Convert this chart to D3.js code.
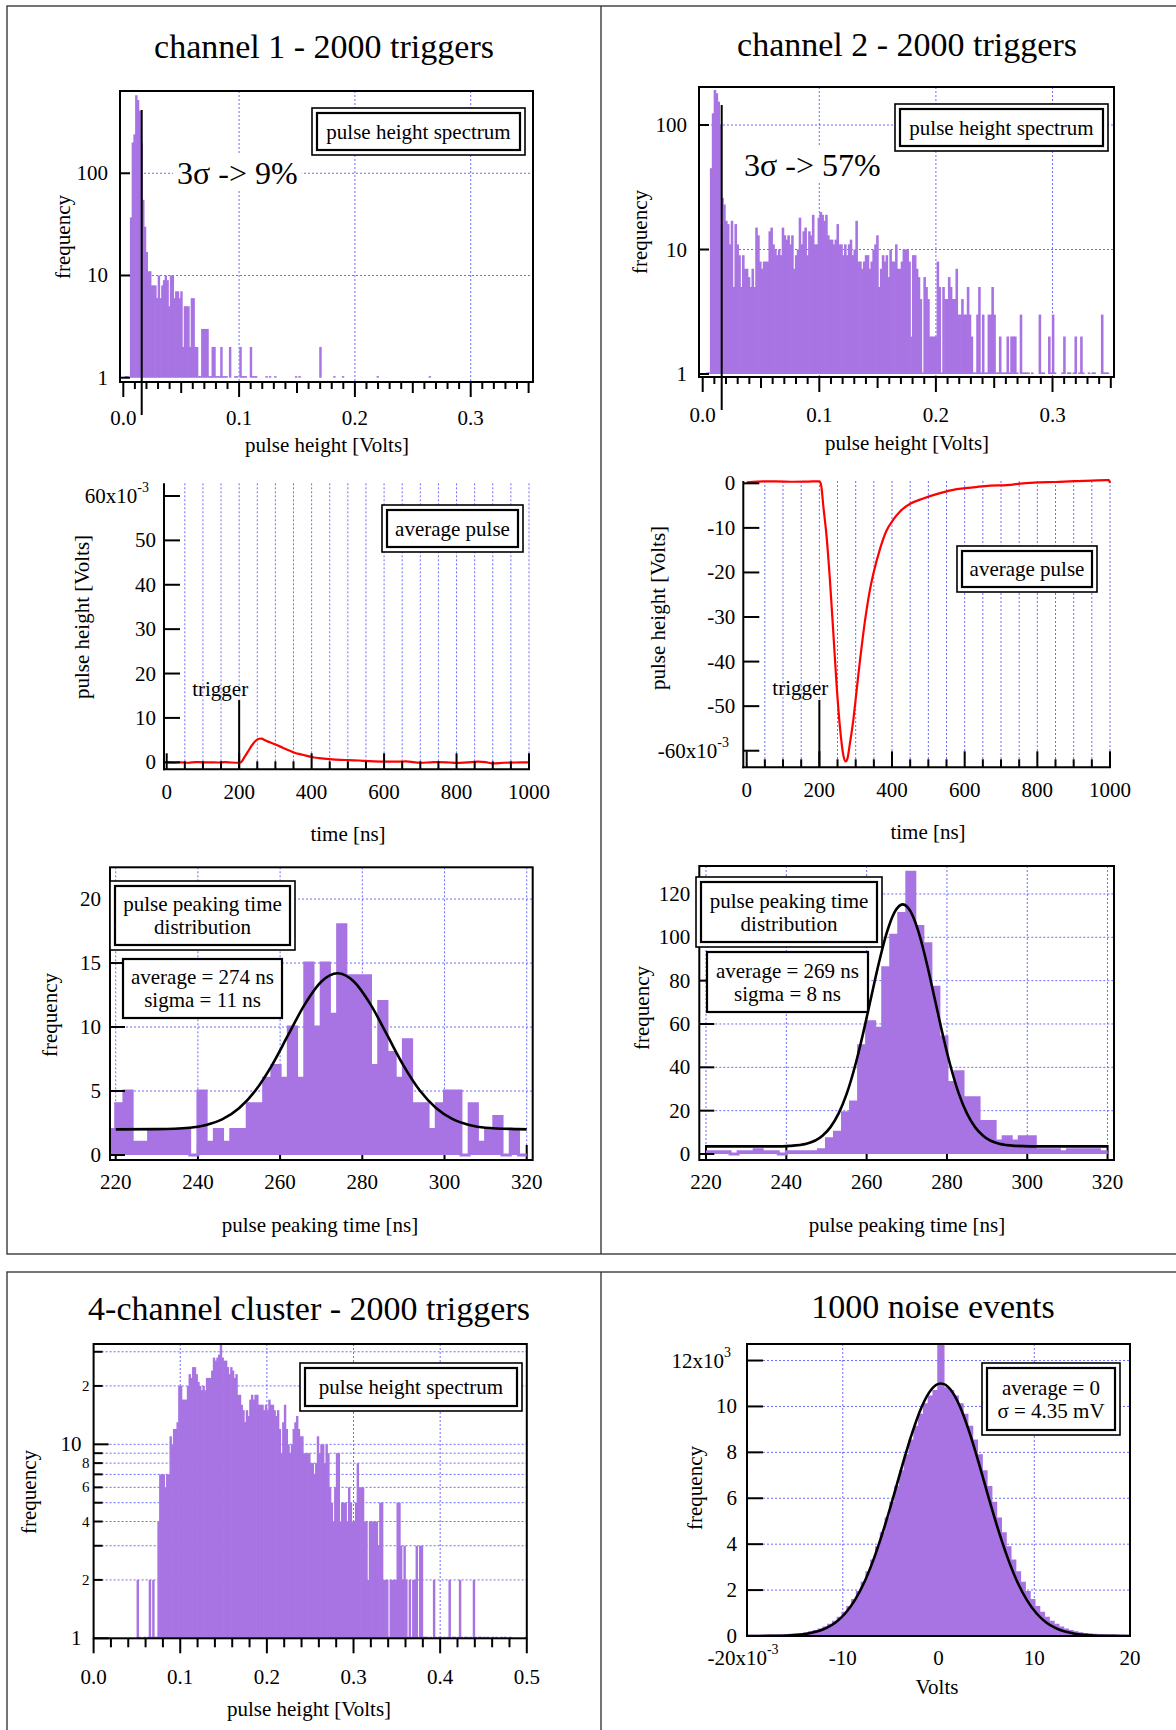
<!DOCTYPE html>
<html>
<head>
<meta charset="utf-8">
<script src="https://cdn.jsdelivr.net/npm/d3@7/dist/d3.min.js"></script>
<style>
html,body{margin:0;padding:0;background:#fff;}
svg{display:block;}
text{font-family:"Liberation Serif","Times New Roman",Times,serif;fill:#000;}
</style>
</head>
<body>
<svg id="chart" width="1176" height="1730"></svg>
<script>
// ================= DATA =================
const panelTitles = ["channel 1 - 2000 triggers", "channel 2 - 2000 triggers",
                     "4-channel cluster - 2000 triggers", "1000 noise events"];

// ---- pulse height spectra (counts per bin, first bin starts at 0 V) ----
const ch1PhBinWidth = 0.0015;
const ch1PhCounts = [
  0,1,1,0,37,200,240,580,520,410,
  200,55,30,17,11,11,8,8,8,6,
  10,6,8,9,10,9,5,10,10,6,
  7,7,6,7,2,5,5,5,2,6,
  6,2,2,1,1,3,3,3,3,1,
  1,2,2,1,1,1,2,1,1,1,
  0,2,0,0,1,1,0,2,1,1,
  1,0,0,2,1,1,1,0,0,0,
  0,0,1,0,1,0,0,1,0,0,
  0,0,0,0,0,0,0,0,0,1,
  0,1,0,0,0,0,0,0,0,0,
  0,0,0,2,0,0,0,0,0,0,
  0,1,0,0,0,0,1,0,0,0,
  0,0,0,0,0,0,0,0,0,0,
  0,0,0,0,0,0,1,0,0,0,
  0,0,0,0,0,0,0,0,0,0,
  0,0,0,0,0,0,0,0,0,0,
  0,0,0,0,0,0,1
];
const ch2PhBinWidth = 0.00162;
const ch2PhCounts = [
  0,0,1,1,45,124,191,180,154,100,
  26,23,17,16,11,17,5,16,11,9,
  5,9,7,7,6,5,7,5,15,13,
  8,7,8,8,8,14,15,11,10,9,
  10,9,15,13,12,13,11,13,7,9,
  10,18,11,14,15,9,14,13,19,11,
  11,18,20,19,17,19,13,12,12,11,
  12,16,11,11,9,11,9,11,12,9,
  10,17,8,8,7,8,9,9,7,8,
  10,11,13,5,7,9,8,9,6,10,
  8,8,11,7,7,8,10,10,10,8,
  2,9,9,7,6,4,1,6,5,4,
  2,2,2,2,8,5,1,5,4,4,
  6,5,4,4,7,3,3,4,3,3,
  5,3,2,1,1,3,5,1,3,1,
  1,3,3,5,3,1,1,2,1,1,
  1,2,1,2,2,2,1,0,3,1,
  1,1,1,0,1,0,0,0,3,1,
  1,0,0,2,1,3,1,0,0,0,
  1,2,0,1,1,0,1,2,0,1,
  2,1,0,0,1,0,1,1,0,0,
  0,3,1,1,1
];
const ch1ThreeSigma = 0.0159, ch1ThreeSigmaTop = 416;
const ch2ThreeSigma = 0.0163, ch2ThreeSigmaTop = 145;
const ch1ThreeSigmaText = "3σ -> 9%";
const ch2ThreeSigmaText = "3σ -> 57%";
const phXTicks = [0, 0.1, 0.2, 0.3];
const phXTickLabels = ["0.0", "0.1", "0.2", "0.3"];
const phYTicks = [1, 10, 100];
const phYTickLabels = ["1", "10", "100"];

// ---- average pulses (time in ns, amplitude in mV) ----
const ch1PulseTime = [0,20,40,60,80,100,120,140,160,180,200,205,215,225,235,245,255,262,270,285,
  300,320,340,355,370,385,400,420,450,480,500,530,560,600,640,660,700,730,750,780,
  800,830,860,880,900,930,960,1000];
const ch1PulseMv = [0,-0.1,0,-0.1,0.05,0,0,-0.05,0.05,-0.05,-0.1,0,1.2,2.5,3.8,4.8,5.3,5.35,5.0,4.5,
  4.0,3.3,2.6,2.1,1.8,1.5,1.2,0.95,0.7,0.55,0.5,0.4,0.25,0.15,0.15,0.2,-0.1,0,0.05,-0.05,
  -0.15,0,0.15,0.05,-0.25,-0.1,-0.05,0];
const ch2PulseTime = [0,30,80,130,170,200,205,211,220,229,238.5,247.7,257,266,272.5,278,284.4,293.6,302.8,312,
  321,330,339,348.6,367,385,404,422,450,486,532,578,624,670,716,761,807,850,900,950,991,997,1000];
const ch2PulseMv = [0.2,0.4,0.45,0.35,0.4,0.45,-0.5,-5.2,-12,-21.6,-33.6,-45.5,-55,-61,-62.4,-61.5,-58.2,-53,-46.3,-39.6,
  -33.6,-28.4,-24,-20.3,-14.7,-10.6,-8.1,-6.3,-4.6,-3.4,-2.2,-1.3,-0.9,-0.5,-0.4,0,0.2,0.3,0.5,0.6,0.7,0.7,0.1];
const triggerTime = 200;
const ch1TriggerTopMv = 14.0, ch2TriggerTopMv = -48.6;
const pulseXTicks = [0, 200, 400, 600, 800, 1000];
const ch1PulseYTicks = [0, 10, 20, 30, 40, 50, 60];
const ch1PulseYTickLabels = ["0", "10", "20", "30", "40", "50", "60x10"];
const ch2PulseYTicks = [0, -10, -20, -30, -40, -50, -60];
const ch2PulseYTickLabels = ["0", "-10", "-20", "-30", "-40", "-50", "-60x10"];

// ---- pulse peaking time distributions (2 ns bins) ----
const ch1PeakStart = 218, peakBinWidth = 2;
const ch1PeakCounts = [2, 4,5,1,1,2,2,2,2,2,0, 5,1,2,1,2,2,4,4,6,7, 6,10,6,15,10,15,11,18,14,14,
  14,7,12,8,6,9,4,4,2,4, 5,5,0,4,1,2,3,0,2,0];
const ch1FitTime = [220,230,238,242,246,250,254,258,262,266,270,274,278,282,286,290,294,298,302,306,310,318,320];
const ch1FitCount = [2.0,2.02,2.13,2.35,2.8,3.65,5.04,7.01,9.4,11.77,13.54,14.2,13.54,11.77,9.4,7.01,5.04,3.65,2.8,2.35,2.13,2.02,2.0];
const ch2PeakStart = 220;
const ch2PeakCounts = [1,1,1,0,1,1,2,1,1,0,1,1,1,1,2, 7,10,19,24,50,61,58,86,101,111,
  130,105,97,77,54,33,38,26,26,15, 15,6,8,6,8,8,2,2,2,1, 2,2,2,2,1];
const ch2FitTime = [220,237,241,245,249,251,253,255,257,259,261,263,265,267,269,271,273,275,277,279,281,283,285,287,289,293,297,301,320];
const ch2FitCount = [3.5,3.5,3.75,4.7,8.4,12.4,18.6,27.6,39.8,54.7,71.3,87.8,102,111.7,115.2,111.7,102,87.8,71.3,54.7,39.8,27.6,18.6,12.4,8.4,4.7,3.75,3.5,3.5];
const peakXTicks = [220, 240, 260, 280, 300, 320];
const ch1PeakYTicks = [0, 5, 10, 15, 20];
const ch2PeakYTicks = [0, 20, 40, 60, 80, 100, 120];
const ch1PeakStats = ["average = 274 ns", "sigma = 11 ns"];
const ch2PeakStats = ["average = 269 ns", "sigma = 8 ns"];

// ---- 4-channel cluster pulse height spectrum (0.002 V bins from 0) ----
const clusterBinWidth = 0.002;
const clusterCounts = [
  0,0,0,0,0,0,0,0,0,0,
  0,0,0,0,0,0,0,0,0,0,
  0,0,0,0,0,2,1,0,0,1,
  0,1,2,1,2,1,1,4,7,7,
  7,6,7,7,11,10,12,12,13,20,
  20,17,17,17,20,23,22,25,25,23,
  21,20,19,20,19,22,22,22,24,28,
  27,28,29,33,28,27,27,25,23,25,
  24,22,23,18,18,16,15,13,15,14,
  17,18,17,18,18,16,16,16,15,16,
  15,17,16,16,15,14,15,12,9,13,
  16,12,10,9,10,12,13,14,12,11,
  11,9,9,9,9,8,8,7,8,11,
  9,10,10,8,10,9,6,5,4,6,
  9,9,4,5,5,5,4,6,5,4,
  4,5,8,6,6,6,4,4,2,4,
  4,4,4,4,3,5,5,2,2,2,
  1,2,2,2,2,5,5,3,2,3,
  2,1,2,1,2,2,3,1,3,3,
  1,1,1,0,1,0,2,1,0,1,
  1,0,1,0,1,2,0,1,1,0,
  1,2,1,0,1,1,0,1,0,2,
  1,0,1,1,0,1,0,1,0,0,
  1,0,1,0,0,1,0,1,0,0,
  1,0,0,0,0,0,0,0,0,1
];
const clusterXTicks = [0, 0.1, 0.2, 0.3, 0.4, 0.5];
const clusterXTickLabels = ["0.0", "0.1", "0.2", "0.3", "0.4", "0.5"];
const clusterYTicks = [1, 2, 3, 4, 5, 6, 7, 8, 9, 10, 20, 30];
const clusterYTickLabels = ["1", "2", "", "4", "", "6", "", "8", "", "10", "2", ""];

// ---- noise events (0.5 mV bins from -20 mV, counts in thousands) ----
const noiseStart = -20, noiseBinWidth = 0.5;
const noiseCountsK = [
  0.002,0.003,0.004,0.006,0.008,0.011,0.016,0.022,0.03,0.041,
  0.056,0.078,0.109,0.149,0.203,0.272,0.361,0.474,0.615,0.789,
  1.00,1.255,1.556,1.91,2.31,2.77,3.28,3.85,4.46,5.11,
  5.79,6.48,7.17,7.86,8.50,9.10,9.63,10.08,10.42,10.66,
  13.4,10.78,10.66,10.42,10.08,9.63,9.10,8.50,7.86,7.17,
  6.48,5.79,5.11,4.46,3.85,3.28,2.77,2.31,1.91,1.556,
  1.255,1.00,0.789,0.615,0.474,0.361,0.272,0.203,0.149,0.109,
  0.078,0.056,0.041,0.03,0.022,0.016,0.011,0.008,0.006,0.004
];
const noiseFitMv = [-20,-17.75,-15.75,-13.75,-11.75,-10.75,-9.75,-8.75,-7.75,-6.75,-5.75,-4.75,-3.75,-2.75,-1.75,-0.75,0.25,
  1.25,2.25,3.25,4.25,5.25,6.25,7.25,8.25,9.25,10.25,11.25,12.25,14.25,16.25,18.25,20];
const noiseFitK = [0,0.004,0.023,0.097,0.34,0.59,0.98,1.55,2.34,3.37,4.61,6.01,7.48,8.85,9.99,10.74,11.0,
  10.74,9.99,8.85,7.48,6.01,4.61,3.37,2.34,1.55,0.98,0.59,0.34,0.097,0.023,0.004,0];
const noiseXTicks = [-20, -10, 0, 10, 20];
const noiseXTickLabels = ["-20x10", "-10", "0", "10", "20"];
const noiseYTicks = [0, 2, 4, 6, 8, 10, 12];
const noiseYTickLabels = ["0", "2", "4", "6", "8", "10", "12x10"];
const noiseStats = ["average = 0", "σ = 4.35 mV"];

// ================= DRAWING =================
const svg = d3.select("#chart");
const defs = svg.append("defs");
const PURPLE = "#a874e3", GRID = "#6b6bff", RED = "#ff0000";
let clipN = 0;
function clipRect(x0, y0, x1, y1) {
  const id = "cp" + (clipN++);
  defs.append("clipPath").attr("id", id).append("rect")
    .attr("x", x0).attr("y", y0).attr("width", x1 - x0).attr("height", y1 - y0);
  return "url(#" + id + ")";
}
function ln(g, x1, y1, x2, y2, w, color, dash) {
  const l = g.append("line").attr("x1", x1).attr("y1", y1).attr("x2", x2).attr("y2", y2)
    .attr("stroke", color || "#000").attr("stroke-width", w == null ? 2 : w);
  if (dash) l.attr("stroke-dasharray", dash);
  return l;
}
function grid(g, x1, y1, x2, y2) { return ln(g, x1, y1, x2, y2, 1, GRID, "2,2"); }
function txt(g, x, y, s, o) {
  o = o || {};
  const t = g.append("text").attr("x", x).attr("y", y)
    .attr("font-size", o.size || 21).attr("text-anchor", o.anchor || "middle")
    .attr("dominant-baseline", "central");
  if (o.rot) t.attr("transform", "rotate(-90," + x + "," + y + ")");
  t.append("tspan").text(s);
  if (o.sup) t.append("tspan").attr("dy", -9).attr("font-size", 14).text(o.sup);
  return t;
}
function frame(g, F) {
  g.append("rect").attr("x", F.x0).attr("y", F.y0).attr("width", F.x1 - F.x0).attr("height", F.y1 - F.y0)
    .attr("fill", "none").attr("stroke", "#000").attr("stroke-width", 2);
}
function legend(g, x0, y0, x1, y1, lines, dbl) {
  g.append("rect").attr("x", x0).attr("y", y0).attr("width", x1 - x0).attr("height", y1 - y0)
    .attr("fill", "#fff").attr("stroke", "#000").attr("stroke-width", dbl ? 1.6 : 2.2);
  if (dbl) g.append("rect").attr("x", x0 + 5).attr("y", y0 + 5).attr("width", x1 - x0 - 10).attr("height", y1 - y0 - 10)
    .attr("fill", "none").attr("stroke", "#000").attr("stroke-width", 2.2);
  const cx = (x0 + x1) / 2, cy = (y0 + y1) / 2, gap = 23;
  lines.forEach((s, i) => txt(g, cx, cy + (i - (lines.length - 1) / 2) * gap, s));
}
function logBars(g, counts, binW, xs, ys) {
  const base = ys(1);
  counts.forEach((c, i) => {
    if (c < 1) return;
    const xa = xs(i * binW), xb = xs((i + 1) * binW);
    const top = c > 1 ? ys(c) : base - 1.6;
    g.append("rect").attr("x", xa - 0.35).attr("y", top).attr("width", Math.max(xb - xa, 0.8) + 0.7)
      .attr("height", base - top).attr("fill", PURPLE);
  });
}
function stepHist(g, start, binW, counts, xs, ys, sw) {
  const pts = counts.map((c, i) => [start + i * binW, c]);
  pts.push([start + counts.length * binW, counts[counts.length - 1]]);
  const area = d3.area().x(d => xs(d[0])).y0(ys(0)).y1(d => ys(d[1])).curve(d3.curveStepAfter);
  g.append("path").attr("d", area(pts)).attr("fill", PURPLE);
  const line = d3.line().x(d => xs(d[0])).y(d => ys(d[1])).curve(d3.curveStepAfter);
  g.append("path").attr("d", line(pts)).attr("fill", "none").attr("stroke", PURPLE).attr("stroke-width", sw);
}
function curve(g, xsArr, ysArr, xs, ys, color, w) {
  const pts = xsArr.map((x, i) => [x, ysArr[i]]);
  const line = d3.line().x(d => xs(d[0])).y(d => ys(d[1])).curve(d3.curveMonotoneX);
  g.append("path").attr("d", line(pts)).attr("fill", "none").attr("stroke", color).attr("stroke-width", w)
    .attr("stroke-linejoin", "round");
}

// ---- page frames and titles ----
{
  const pf = svg.append("g").attr("fill", "none").attr("stroke", "#3a3a3a").attr("stroke-width", 1.4);
  pf.append("rect").attr("x", 7).attr("y", 6).attr("width", 1200).attr("height", 1248);
  pf.append("line").attr("x1", 601).attr("y1", 6).attr("x2", 601).attr("y2", 1254);
  pf.append("rect").attr("x", 7).attr("y", 1272).attr("width", 1200).attr("height", 500);
  pf.append("line").attr("x1", 601).attr("y1", 1272).attr("x2", 601).attr("y2", 1730);
  const tg = svg.append("g");
  txt(tg, 324, 46, panelTitles[0], {size: 34});
  txt(tg, 907, 44, panelTitles[1], {size: 34});
  txt(tg, 309, 1308, panelTitles[2], {size: 34});
  txt(tg, 933, 1306, panelTitles[3], {size: 34});
}

// ---- pulse height panels (ch1, ch2) ----
function phPanel(o) {
  const F = o.F;
  const xs = d3.scaleLinear().domain(o.xd).range([F.x0, F.x1]);
  const ys = d3.scaleLog().domain(o.yd).range([F.y1, F.y0]);
  const g = svg.append("g");
  phXTicks.forEach(v => { if (v > 0) grid(g, xs(v), F.y0, xs(v), F.y1); });
  phYTicks.forEach(v => { if (v > 1) grid(g, F.x0, ys(v), F.x1, ys(v)); });
  const t = txt(g, o.stx, o.sty, o.sText, {size: 32, anchor: "start"});
  const bb = t.node().getBBox();
  g.insert("rect", () => t.node()).attr("x", bb.x - 4).attr("y", bb.y).attr("width", bb.width + 8)
    .attr("height", bb.height).attr("fill", "#fff");
  const gb = g.append("g").attr("clip-path", clipRect(F.x0, F.y0, F.x1, F.y1));
  logBars(gb, o.counts, o.binW, xs, ys);
  ln(g, xs(o.sx), ys(o.sTop), xs(o.sx), F.y1 + 33, 2);
  frame(g, F);
  phYTicks.forEach((v, i) => {
    ln(g, F.x0, ys(v), F.x0 + 10, ys(v), 2);
    txt(g, F.x0 - 12, ys(v), phYTickLabels[i], {anchor: "end"});
  });
  d3.range(0, 36).forEach(i => {
    const L = i % 10 === 0 ? 15 : (i % 5 === 0 ? 11 : 7);
    ln(g, xs(i / 100), F.y1, xs(i / 100), F.y1 + L, 2);
  });
  phXTicks.forEach((v, i) => txt(g, xs(v), o.xly, phXTickLabels[i]));
  txt(g, o.ytx, o.yty, "frequency", {rot: true});
  txt(g, o.xtx, o.xty, "pulse height [Volts]");
  legend(g, o.lg[0], o.lg[1], o.lg[2], o.lg[3], ["pulse height spectrum"], true);
}
phPanel({F: {x0: 120, x1: 533, y0: 91, y1: 382}, xd: [-0.00285, 0.3538], yd: [0.908, 638],
  counts: ch1PhCounts, binW: ch1PhBinWidth, sx: ch1ThreeSigma, sTop: ch1ThreeSigmaTop,
  sText: ch1ThreeSigmaText, stx: 177, sty: 173, xly: 418, ytx: 63, yty: 237, xtx: 327, xty: 445,
  lg: [312, 108, 525, 155]});
phPanel({F: {x0: 699, x1: 1114, y0: 87, y1: 377}, xd: [-0.00317, 0.35274], yd: [0.946, 202],
  counts: ch2PhCounts, binW: ch2PhBinWidth, sx: ch2ThreeSigma, sTop: ch2ThreeSigmaTop,
  sText: ch2ThreeSigmaText, stx: 744, sty: 165, xly: 415, ytx: 640, yty: 232, xtx: 907, xty: 443,
  lg: [895, 104, 1108, 151]});

// ---- average pulse panels ----
function pulsePanel(o) {
  const A = o.A;
  const xs = d3.scaleLinear().domain(o.xd).range([A.x0, A.x1]);
  const ys = d3.scaleLinear().domain(o.yd).range([A.y1, A.y0]);
  const g = svg.append("g");
  d3.range(1, 21).forEach(i => grid(g, xs(i * 50), A.y0, xs(i * 50), A.y1));
  ln(g, xs(triggerTime), ys(o.trigTop), xs(triggerTime), A.y1, 2);
  txt(g, xs(triggerTime) - 19, o.trigLabelY, "trigger");
  curve(g, o.t, o.v, xs, ys, RED, 2.2);
  ln(g, A.x0, A.y0, A.x0, A.y1 + 1, 2);
  ln(g, A.x0 - 1, A.y1, A.x1 + 1, A.y1, 2);
  o.yTicks.forEach((v, i) => {
    ln(g, A.x0, ys(v), A.x0 + 16, ys(v), 2);
    const last = i === o.yTicks.length - 1;
    txt(g, last ? o.expLabelX : A.x0 - 8, ys(v), o.yLabels[i], {anchor: "end", sup: last ? o.sup : null});
  });
  d3.range(0, 21).forEach(i => {
    const L = i % 4 === 0 ? 16 : 8;
    ln(g, xs(i * 50), A.y1, xs(i * 50), A.y1 - L, 2);
  });
  pulseXTicks.forEach(v => txt(g, xs(v), o.xly, String(v)));
  txt(g, o.ytx, o.yty, "pulse height [Volts]", {rot: true});
  txt(g, o.xtx, o.xty, "time [ns]");
  legend(g, o.lg[0], o.lg[1], o.lg[2], o.lg[3], ["average pulse"], true);
}
pulsePanel({A: {x0: 164, x1: 529, y0: 483.3, y1: 769.3}, xd: [-7.45, 1000], yd: [-1.577, 62.86],
  t: ch1PulseTime, v: ch1PulseMv, trigTop: ch1TriggerTopMv, trigLabelY: 689,
  yTicks: ch1PulseYTicks, yLabels: ch1PulseYTickLabels, sup: "-3", expLabelX: 149,
  xly: 792, ytx: 82, yty: 617, xtx: 348, xty: 834, lg: [382, 505, 523, 552]});
pulsePanel({A: {x0: 743.3, x1: 1110, y0: 481, y1: 767.3}, xd: [-9.36, 1000], yd: [-63.72, 0.52],
  t: ch2PulseTime, v: ch2PulseMv, trigTop: ch2TriggerTopMv, trigLabelY: 688,
  yTicks: ch2PulseYTicks, yLabels: ch2PulseYTickLabels, sup: "-3", expLabelX: 729,
  xly: 790, ytx: 658, yty: 608, xtx: 928, xty: 832, lg: [957, 546, 1097, 592]});

// ---- peaking time panels ----
function peakPanel(o) {
  const F = o.F;
  const xs = d3.scaleLinear().domain(o.xd).range([F.x0, F.x1]);
  const ys = d3.scaleLinear().domain(o.yd).range([F.y1, F.y0]);
  const g = svg.append("g");
  peakXTicks.forEach(v => grid(g, xs(v), F.y0, xs(v), F.y1));
  o.yTicks.forEach(v => { if (v > 0) grid(g, F.x0, ys(v), F.x1, ys(v)); });
  peakXTicks.forEach(v => ln(g, xs(v), F.y1, xs(v), F.y1 - 15, 2));
  const gb = g.append("g").attr("clip-path", clipRect(F.x0, F.y0, F.x1, F.y1));
  stepHist(gb, o.start, peakBinWidth, o.counts, xs, ys, 3);
  curve(gb, o.fitT, o.fitC, xs, ys, "#000", 2.6);
  frame(g, F);
  o.yTicks.forEach(v => {
    ln(g, F.x0, ys(v), F.x0 + 15, ys(v), 2);
    txt(g, F.x0 - 9, ys(v), String(v), {anchor: "end"});
  });
  peakXTicks.forEach(v => txt(g, xs(v), 1182, String(v)));
  txt(g, o.ytx, o.yty, "frequency", {rot: true});
  txt(g, o.xtx, 1225, "pulse peaking time [ns]");
  legend(g, o.lg1[0], o.lg1[1], o.lg1[2], o.lg1[3], ["pulse peaking time", "distribution"], true);
  legend(g, o.lg2[0], o.lg2[1], o.lg2[2], o.lg2[3], o.stats, false);
}
peakPanel({F: {x0: 110, x1: 532.7, y0: 867.3, y1: 1160}, xd: [218.61, 321.46], yd: [-0.39, 22.48],
  start: ch1PeakStart, counts: ch1PeakCounts, fitT: ch1FitTime, fitC: ch1FitCount, yTicks: ch1PeakYTicks,
  ytx: 50, yty: 1015, xtx: 320, lg1: [110, 881, 295, 950], lg2: [123, 959, 282, 1018], stats: ch1PeakStats});
peakPanel({F: {x0: 699.3, x1: 1114, y0: 866, y1: 1160}, xd: [218.33, 321.6], yd: [-2.77, 132.9],
  start: ch2PeakStart, counts: ch2PeakCounts, fitT: ch2FitTime, fitC: ch2FitCount, yTicks: ch2PeakYTicks,
  ytx: 642, yty: 1008, xtx: 907, lg1: [696, 877, 882, 947], lg2: [707, 952, 868, 1012], stats: ch2PeakStats});

// ---- 4-channel cluster ----
{
  const F = {x0: 93.6, x1: 526.8, y0: 1344, y1: 1638.3};
  const xs = d3.scaleLinear().domain([0, 0.5]).range([F.x0, F.x1]);
  const ys = d3.scaleLog().domain([1, 32.9]).range([F.y1, F.y0]);
  const g = svg.append("g");
  clusterXTicks.forEach(v => { if (v > 0 && v < 0.5) grid(g, xs(v), F.y0, xs(v), F.y1); });
  clusterYTicks.forEach(v => { if (v > 1) grid(g, F.x0, ys(v), F.x1, ys(v)); });
  const gb = g.append("g").attr("clip-path", clipRect(F.x0, F.y0 , F.x1, F.y1 + 2));
  logBars(gb, clusterCounts, clusterBinWidth, xs, ys);
  frame(g, F);
  clusterYTicks.forEach((v, i) => {
    const major = v === 1 || v === 10;
    ln(g, F.x0, ys(v), F.x0 + (major ? 15 : 9), ys(v), 2);
    const lab = clusterYTickLabels[i];
    if (lab) txt(g, major ? F.x0 - 12 : F.x0 - 4, ys(v), lab, {anchor: "end", size: major ? 21 : 15});
  });
  d3.range(0, 26).forEach(i => {
    const L = i % 5 === 0 ? 15 : 9;
    ln(g, xs(i * 0.02), F.y1, xs(i * 0.02), F.y1 + L, 2);
  });
  clusterXTicks.forEach((v, i) => txt(g, xs(v), 1677, clusterXTickLabels[i]));
  txt(g, 29, 1492, "frequency", {rot: true});
  txt(g, 309, 1709, "pulse height [Volts]");
  legend(g, 300, 1363, 522, 1411, ["pulse height spectrum"], true);
}

// ---- noise events ----
{
  const F = {x0: 747, x1: 1130, y0: 1344, y1: 1636};
  const xs = d3.scaleLinear().domain([-20, 20]).range([F.x0, F.x1]);
  const ys = d3.scaleLinear().domain([0, 12.72]).range([F.y1, F.y0]);
  const g = svg.append("g");
  noiseXTicks.forEach(v => { if (v > -20 && v < 20) grid(g, xs(v), F.y0, xs(v), F.y1); });
  noiseYTicks.forEach(v => { if (v > 0) grid(g, F.x0, ys(v), F.x1, ys(v)); });
  const gb = g.append("g").attr("clip-path", clipRect(F.x0, F.y0, F.x1 + 2, F.y1));
  stepHist(gb, noiseStart, noiseBinWidth, noiseCountsK, xs, ys, 2.5);
  curve(gb, noiseFitMv, noiseFitK, xs, ys, "#000", 2.6);
  frame(g, F);
  noiseYTicks.forEach((v, i) => {
    ln(g, F.x0, ys(v), F.x0 + 16, ys(v), 2);
    const last = i === noiseYTicks.length - 1;
    txt(g, last ? 731 : F.x0 - 10, ys(v), noiseYTickLabels[i], {anchor: "end", sup: last ? "3" : null});
  });
  noiseXTicks.forEach((v, i) => txt(g, xs(v) + (i === 0 ? -4 : 0), 1658, noiseXTickLabels[i], {sup: i === 0 ? "-3" : null}));
  txt(g, 695, 1488, "frequency", {rot: true});
  txt(g, 937, 1687, "Volts");
  legend(g, 982, 1363, 1120, 1435, noiseStats, true);
}
</script>
</body>
</html>
